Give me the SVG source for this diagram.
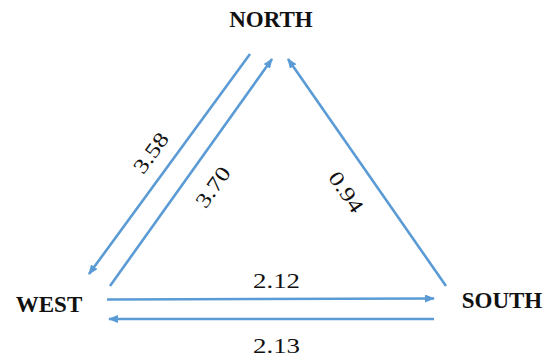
<svg xmlns="http://www.w3.org/2000/svg" width="550" height="360" viewBox="0 0 550 360">
  <style>
    .node { font-family: "Liberation Serif", "Times New Roman", serif; font-weight: bold; font-size: 23px; fill: #111; text-anchor: middle; }
    .lbl { font-family: "Liberation Serif", "Times New Roman", serif; font-size: 21px; fill: #111; text-anchor: middle; }
    .edge { stroke: #5B9BD5; stroke-width: 2.6; fill: none; marker-end: url(#arr); }
  </style>
  <defs>
    <marker id="arr" viewBox="0 0 10 8" markerWidth="10" markerHeight="8" markerUnits="userSpaceOnUse" refX="9" refY="4" orient="auto">
      <path d="M0,0 L10,4 L0,8 Z" fill="#5B9BD5"/>
    </marker>
  </defs>
  <rect width="550" height="360" fill="#ffffff"/>
  <g id="connectors">
    <line class="edge" x1="250" y1="54" x2="89" y2="274"/>
    <line class="edge" x1="110" y1="286" x2="272" y2="59"/>
    <line class="edge" x1="446" y1="286" x2="288" y2="59"/>
    <line class="edge" x1="107" y1="299.5" x2="434" y2="298.5"/>
    <line class="edge" x1="434" y1="319" x2="109" y2="319"/>
    <text class="lbl" textLength="45" lengthAdjust="spacingAndGlyphs" transform="translate(151,153) rotate(-53.8)" x="0" y="7">3.58</text>
    <text class="lbl" textLength="45" lengthAdjust="spacingAndGlyphs" transform="translate(213,187) rotate(-54.6)" x="0" y="7">3.70</text>
    <text class="lbl" textLength="45" lengthAdjust="spacingAndGlyphs" transform="translate(346,192) rotate(55.3)" x="0" y="7">0.94</text>
    <text class="lbl" textLength="47" lengthAdjust="spacingAndGlyphs" x="276.5" y="288">2.12</text>
    <text class="lbl" textLength="47" lengthAdjust="spacingAndGlyphs" x="276.5" y="353">2.13</text>
  </g>
  <g id="north"><text class="node" x="271" y="27">NORTH</text></g>
  <g id="west"><text class="node" x="49" y="312">WEST</text></g>
  <g id="south"><text class="node" x="502" y="308">SOUTH</text></g>
</svg>
